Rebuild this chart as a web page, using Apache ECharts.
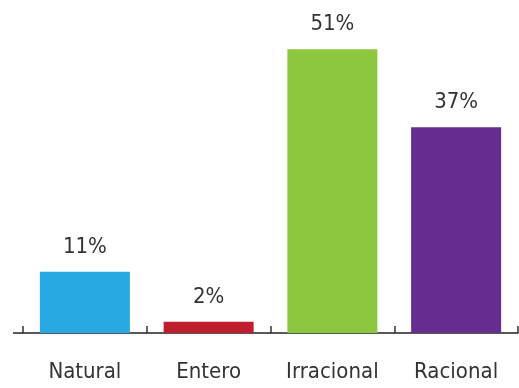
<!DOCTYPE html>
<html>
<head>
<meta charset="utf-8">
<style>
  html, body { margin: 0; padding: 0; background: #fff; }
  #chart { width: 519px; height: 388px; }
</style>
<script src="https://cdn.jsdelivr.net/npm/echarts@6/dist/echarts.min.js"></script>
</head>
<body>
<div id="chart"></div>
<script>
// Share of number types
const categories = ['Natural', 'Entero', 'Irracional', 'Racional'];
const shares = [11, 2, 51, 37];
const barColors = ['#29a9e1', '#be1e2d', '#8dc63f', '#662d91'];

const FONT = '"Liberation Sans Narrow", "DejaVu Sans Condensed", "Roboto", sans-serif';

const chart = echarts.init(document.getElementById('chart'), null, { renderer: 'canvas' });

chart.setOption({
  animation: false,
  grid: { left: 23, right: 1, top: 27, bottom: 55 },
  xAxis: {
    type: 'category',
    data: categories,
    boundaryGap: true,
    axisLine: { lineStyle: { color: '#222', width: 1.5 } },
    axisTick: { show: true, interval: 0, inside: true, length: 7, lineStyle: { color: '#333', width: 1.5 } },
    axisLabel: { interval: 0, color: '#333', fontFamily: FONT, fontSize: 22, margin: 28 }
  },
  yAxis: {
    type: 'value',
    min: 0,
    max: 55,
    show: false,
    splitLine: { show: false }
  },
  series: [{
    type: 'bar',
    barWidth: 90,
    data: shares.map((v, i) => ({ value: v, itemStyle: { color: barColors[i] } })),
    label: {
      show: true,
      position: 'top',
      distance: 14,
      formatter: p => p.value + '%',
      color: '#333',
      fontFamily: FONT,
      fontSize: 22
    }
  }],
  graphic: [{
    type: 'line',
    shape: { x1: 13, y1: 333, x2: 23, y2: 333 },
    style: { stroke: '#222', lineWidth: 1.5 }
  }]
});
</script>
</body>
</html>
